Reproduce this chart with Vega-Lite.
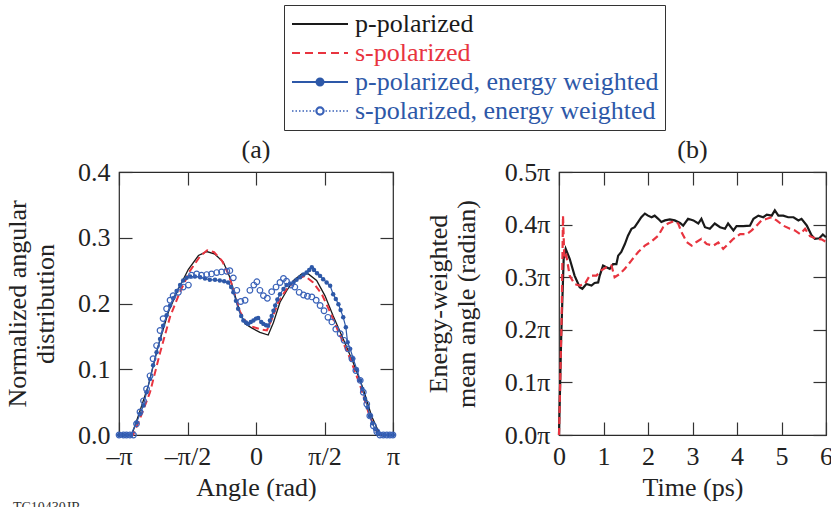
{
  "$schema": "https://vega.github.io/schema/vega-lite/v6.json",
  "background": "white",
  "padding": {"left": 3, "top": 4, "right": 0, "bottom": 0},
  "config": {
    "font": "Liberation Serif",
    "view": {"stroke": "#2a2a2a", "strokeWidth": 1.2},
    "axis": {
      "grid": false, "domain": false, "tickSize": -13, "tickColor": "#333333", "tickWidth": 1.2,
      "labelFont": "Liberation Serif", "labelFontSize": 26, "labelColor": "#222222",
      "titleFont": "Liberation Serif", "titleFontSize": 26, "titleFontWeight": "normal", "titleColor": "#222222",
      "labelFlush": false, "labelPadding": 22, "titlePadding": 19, "titleLineHeight": 28
    },
    "axisX": {"titlePadding": 5, "labelPadding": 21},
    "legend": {
      "labelFont": "Liberation Serif", "labelFontSize": 26, "labelLimit": 600,
      "symbolSize": 400, "symbolStrokeWidth": 2, "symbolOffset": 17, "labelOffset": 22,
      "rowPadding": 3, "padding": 6, "strokeColor": "#333333", "fillColor": "white"
    }
  },
  "datasets": {
    "a": [
      {"series":"p","angle":-3.14,"value":0},{"series":"p","angle":-2.85,"value":0},{"series":"p","angle":-2.70,"value":0.029},{"series":"p","angle":-2.47,"value":0.075},{"series":"p","angle":-2.24,"value":0.136},{"series":"p","angle":-2.01,"value":0.187},{"series":"p","angle":-1.78,"value":0.222},{"series":"p","angle":-1.55,"value":0.252},{"series":"p","angle":-1.32,"value":0.273},{"series":"p","angle":-1.13,"value":0.279},{"series":"p","angle":-0.94,"value":0.275},{"series":"p","angle":-0.75,"value":0.263},{"series":"p","angle":-0.60,"value":0.240},{"series":"p","angle":-0.48,"value":0.212},{"series":"p","angle":-0.37,"value":0.187},{"series":"p","angle":-0.25,"value":0.169},{"series":"p","angle":-0.10,"value":0.163},{"series":"p","angle":0.09,"value":0.156},{"series":"p","angle":0.28,"value":0.152},{"series":"p","angle":0.40,"value":0.171},{"series":"p","angle":0.55,"value":0.202},{"series":"p","angle":0.70,"value":0.219},{"series":"p","angle":0.86,"value":0.235},{"series":"p","angle":1.05,"value":0.245},{"series":"p","angle":1.20,"value":0.245},{"series":"p","angle":1.39,"value":0.235},{"series":"p","angle":1.58,"value":0.212},{"series":"p","angle":1.77,"value":0.181},{"series":"p","angle":2.00,"value":0.146},{"series":"p","angle":2.23,"value":0.110},{"series":"p","angle":2.46,"value":0.070},{"series":"p","angle":2.65,"value":0.029},{"series":"p","angle":2.80,"value":0.007},{"series":"p","angle":2.88,"value":0},{"series":"p","angle":3.14,"value":0},
      {"series":"s","angle":-3.14,"value":0},{"series":"s","angle":-2.82,"value":0},{"series":"s","angle":-2.66,"value":0.025},{"series":"s","angle":-2.43,"value":0.065},{"series":"s","angle":-2.20,"value":0.125},{"series":"s","angle":-1.97,"value":0.180},{"series":"s","angle":-1.74,"value":0.218},{"series":"s","angle":-1.51,"value":0.250},{"series":"s","angle":-1.28,"value":0.272},{"series":"s","angle":-1.12,"value":0.281},{"series":"s","angle":-0.96,"value":0.278},{"series":"s","angle":-0.78,"value":0.265},{"series":"s","angle":-0.62,"value":0.243},{"series":"s","angle":-0.48,"value":0.212},{"series":"s","angle":-0.37,"value":0.188},{"series":"s","angle":-0.23,"value":0.172},{"series":"s","angle":-0.14,"value":0.166},{"series":"s","angle":0.09,"value":0.161},{"series":"s","angle":0.25,"value":0.159},{"series":"s","angle":0.36,"value":0.176},{"series":"s","angle":0.51,"value":0.202},{"series":"s","angle":0.70,"value":0.222},{"series":"s","angle":0.93,"value":0.237},{"series":"s","angle":1.12,"value":0.242},{"series":"s","angle":1.31,"value":0.232},{"series":"s","angle":1.51,"value":0.214},{"series":"s","angle":1.70,"value":0.187},{"series":"s","angle":1.93,"value":0.151},{"series":"s","angle":2.16,"value":0.116},{"series":"s","angle":2.39,"value":0.075},{"series":"s","angle":2.58,"value":0.034},{"series":"s","angle":2.73,"value":0.009},{"series":"s","angle":2.84,"value":0},{"series":"s","angle":3.14,"value":0},
      {"series":"pw","angle":-3.14,"value":0},{"series":"pw","angle":-3.05,"value":0},{"series":"pw","angle":-2.96,"value":0},{"series":"pw","angle":-2.87,"value":0},{"series":"pw","angle":-2.74,"value":0.019},{"series":"pw","angle":-2.66,"value":0.032},{"series":"pw","angle":-2.58,"value":0.045},{"series":"pw","angle":-2.51,"value":0.065},{"series":"pw","angle":-2.43,"value":0.085},{"series":"pw","angle":-2.36,"value":0.106},{"series":"pw","angle":-2.28,"value":0.126},{"series":"pw","angle":-2.20,"value":0.146},{"series":"pw","angle":-2.13,"value":0.166},{"series":"pw","angle":-2.05,"value":0.182},{"series":"pw","angle":-1.97,"value":0.197},{"series":"pw","angle":-1.90,"value":0.208},{"series":"pw","angle":-1.82,"value":0.219},{"series":"pw","angle":-1.74,"value":0.228},{"series":"pw","angle":-1.67,"value":0.235},{"series":"pw","angle":-1.59,"value":0.239},{"series":"pw","angle":-1.51,"value":0.241},{"series":"pw","angle":-1.40,"value":0.241},{"series":"pw","angle":-1.28,"value":0.240},{"series":"pw","angle":-1.17,"value":0.238},{"series":"pw","angle":-1.06,"value":0.236},{"series":"pw","angle":-0.94,"value":0.236},{"series":"pw","angle":-0.83,"value":0.235},{"series":"pw","angle":-0.73,"value":0.234},{"series":"pw","angle":-0.64,"value":0.232},{"series":"pw","angle":-0.57,"value":0.225},{"series":"pw","angle":-0.52,"value":0.217},{"series":"pw","angle":-0.46,"value":0.204},{"series":"pw","angle":-0.41,"value":0.192},{"series":"pw","angle":-0.34,"value":0.181},{"series":"pw","angle":-0.29,"value":0.174},{"series":"pw","angle":-0.23,"value":0.171},{"series":"pw","angle":-0.18,"value":0.169},{"series":"pw","angle":-0.12,"value":0.172},{"series":"pw","angle":-0.06,"value":0.174},{"series":"pw","angle":0.00,"value":0.177},{"series":"pw","angle":0.05,"value":0.178},{"series":"pw","angle":0.12,"value":0.172},{"series":"pw","angle":0.17,"value":0.169},{"series":"pw","angle":0.23,"value":0.167},{"series":"pw","angle":0.28,"value":0.166},{"series":"pw","angle":0.32,"value":0.174},{"series":"pw","angle":0.36,"value":0.181},{"series":"pw","angle":0.40,"value":0.189},{"series":"pw","angle":0.44,"value":0.197},{"series":"pw","angle":0.49,"value":0.206},{"series":"pw","angle":0.55,"value":0.214},{"series":"pw","angle":0.63,"value":0.222},{"series":"pw","angle":0.70,"value":0.228},{"series":"pw","angle":0.78,"value":0.230},{"series":"pw","angle":0.86,"value":0.232},{"series":"pw","angle":0.93,"value":0.236},{"series":"pw","angle":1.01,"value":0.240},{"series":"pw","angle":1.09,"value":0.244},{"series":"pw","angle":1.16,"value":0.247},{"series":"pw","angle":1.22,"value":0.251},{"series":"pw","angle":1.28,"value":0.255},{"series":"pw","angle":1.33,"value":0.251},{"series":"pw","angle":1.40,"value":0.246},{"series":"pw","angle":1.47,"value":0.242},{"series":"pw","angle":1.54,"value":0.237},{"series":"pw","angle":1.62,"value":0.232},{"series":"pw","angle":1.70,"value":0.227},{"series":"pw","angle":1.77,"value":0.214},{"series":"pw","angle":1.83,"value":0.207},{"series":"pw","angle":1.89,"value":0.199},{"series":"pw","angle":1.94,"value":0.190},{"series":"pw","angle":2.00,"value":0.179},{"series":"pw","angle":2.06,"value":0.164},{"series":"pw","angle":2.10,"value":0.141},{"series":"pw","angle":2.16,"value":0.131},{"series":"pw","angle":2.23,"value":0.116},{"series":"pw","angle":2.31,"value":0.100},{"series":"pw","angle":2.39,"value":0.083},{"series":"pw","angle":2.44,"value":0.070},{"series":"pw","angle":2.50,"value":0.055},{"series":"pw","angle":2.56,"value":0.042},{"series":"pw","angle":2.61,"value":0.029},{"series":"pw","angle":2.67,"value":0.018},{"series":"pw","angle":2.73,"value":0.009},{"series":"pw","angle":2.79,"value":0.004},{"series":"pw","angle":2.84,"value":0.001},{"series":"pw","angle":2.94,"value":0},{"series":"pw","angle":3.03,"value":0},{"series":"pw","angle":3.14,"value":0},
      {"series":"sw","angle":-3.14,"value":0},{"series":"sw","angle":-3.04,"value":0},{"series":"sw","angle":-2.97,"value":0},{"series":"sw","angle":-2.89,"value":0},{"series":"sw","angle":-2.81,"value":0},{"series":"sw","angle":-2.74,"value":0.017},{"series":"sw","angle":-2.66,"value":0.035},{"series":"sw","angle":-2.58,"value":0.052},{"series":"sw","angle":-2.51,"value":0.070},{"series":"sw","angle":-2.43,"value":0.090},{"series":"sw","angle":-2.36,"value":0.116},{"series":"sw","angle":-2.28,"value":0.136},{"series":"sw","angle":-2.20,"value":0.159},{"series":"sw","angle":-2.13,"value":0.177},{"series":"sw","angle":-2.05,"value":0.192},{"series":"sw","angle":-1.97,"value":0.205},{"series":"sw","angle":-1.90,"value":0.212},{"series":"sw","angle":-1.78,"value":0.217},{"series":"sw","angle":-1.67,"value":0.225},{"series":"sw","angle":-1.55,"value":0.228},{"series":"sw","angle":-1.48,"value":0.243},{"series":"sw","angle":-1.36,"value":0.245},{"series":"sw","angle":-1.25,"value":0.243},{"series":"sw","angle":-1.13,"value":0.244},{"series":"sw","angle":-1.02,"value":0.245},{"series":"sw","angle":-0.90,"value":0.247},{"series":"sw","angle":-0.79,"value":0.248},{"series":"sw","angle":-0.67,"value":0.249},{"series":"sw","angle":-0.60,"value":0.250},{"series":"sw","angle":-0.52,"value":0.239},{"series":"sw","angle":-0.44,"value":0.220},{"series":"sw","angle":-0.35,"value":0.203},{"series":"sw","angle":-0.25,"value":0.205},{"series":"sw","angle":-0.14,"value":0.220},{"series":"sw","angle":-0.05,"value":0.228},{"series":"sw","angle":0.02,"value":0.233},{"series":"sw","angle":0.09,"value":0.220},{"series":"sw","angle":0.17,"value":0.212},{"series":"sw","angle":0.26,"value":0.208},{"series":"sw","angle":0.36,"value":0.218},{"series":"sw","angle":0.46,"value":0.225},{"series":"sw","angle":0.55,"value":0.232},{"series":"sw","angle":0.63,"value":0.238},{"series":"sw","angle":0.70,"value":0.234},{"series":"sw","angle":0.80,"value":0.228},{"series":"sw","angle":0.89,"value":0.225},{"series":"sw","angle":0.99,"value":0.217},{"series":"sw","angle":1.09,"value":0.213},{"series":"sw","angle":1.18,"value":0.211},{"series":"sw","angle":1.28,"value":0.210},{"series":"sw","angle":1.38,"value":0.205},{"series":"sw","angle":1.47,"value":0.197},{"series":"sw","angle":1.56,"value":0.189},{"series":"sw","angle":1.65,"value":0.179},{"series":"sw","angle":1.74,"value":0.172},{"series":"sw","angle":1.83,"value":0.161},{"series":"sw","angle":1.93,"value":0.154},{"series":"sw","angle":2.02,"value":0.144},{"series":"sw","angle":2.11,"value":0.131},{"series":"sw","angle":2.20,"value":0.116},{"series":"sw","angle":2.29,"value":0.098},{"series":"sw","angle":2.39,"value":0.083},{"series":"sw","angle":2.46,"value":0.065},{"series":"sw","angle":2.54,"value":0.047},{"series":"sw","angle":2.61,"value":0.029},{"series":"sw","angle":2.69,"value":0.014},{"series":"sw","angle":2.77,"value":0.005},{"series":"sw","angle":2.84,"value":0},{"series":"sw","angle":2.92,"value":0},{"series":"sw","angle":3.00,"value":0},{"series":"sw","angle":3.07,"value":0},{"series":"sw","angle":3.14,"value":0}
    ],
    "b": [
      {"series":"p","time":0,"angle_pi":0},{"series":"p","time":0.05,"angle_pi":0.189},{"series":"p","time":0.105,"angle_pi":0.335},{"series":"p","time":0.15,"angle_pi":0.354},{"series":"p","time":0.24,"angle_pi":0.335},{"series":"p","time":0.35,"angle_pi":0.303},{"series":"p","time":0.465,"angle_pi":0.281},{"series":"p","time":0.525,"angle_pi":0.278},{"series":"p","time":0.615,"angle_pi":0.287},{"series":"p","time":0.73,"angle_pi":0.284},{"series":"p","time":0.80,"angle_pi":0.289},{"series":"p","time":0.88,"angle_pi":0.290},{"series":"p","time":0.915,"angle_pi":0.303},{"series":"p","time":0.99,"angle_pi":0.322},{"series":"p","time":1.065,"angle_pi":0.319},{"series":"p","time":1.14,"angle_pi":0.316},{"series":"p","time":1.215,"angle_pi":0.325},{"series":"p","time":1.29,"angle_pi":0.325},{"series":"p","time":1.33,"angle_pi":0.341},{"series":"p","time":1.40,"angle_pi":0.348},{"series":"p","time":1.48,"angle_pi":0.363},{"series":"p","time":1.55,"angle_pi":0.379},{"series":"p","time":1.63,"angle_pi":0.392},{"series":"p","time":1.70,"angle_pi":0.395},{"series":"p","time":1.78,"angle_pi":0.405},{"series":"p","time":1.85,"angle_pi":0.414},{"series":"p","time":1.93,"angle_pi":0.421},{"series":"p","time":2.00,"angle_pi":0.417},{"series":"p","time":2.08,"angle_pi":0.414},{"series":"p","time":2.15,"angle_pi":0.417},{"series":"p","time":2.23,"angle_pi":0.411},{"series":"p","time":2.30,"angle_pi":0.405},{"series":"p","time":2.38,"angle_pi":0.408},{"series":"p","time":2.49,"angle_pi":0.410},{"series":"p","time":2.60,"angle_pi":0.408},{"series":"p","time":2.72,"angle_pi":0.403},{"series":"p","time":2.79,"angle_pi":0.398},{"series":"p","time":2.90,"angle_pi":0.411},{"series":"p","time":3.02,"angle_pi":0.408},{"series":"p","time":3.13,"angle_pi":0.402},{"series":"p","time":3.20,"angle_pi":0.411},{"series":"p","time":3.28,"angle_pi":0.395},{"series":"p","time":3.39,"angle_pi":0.392},{"series":"p","time":3.50,"angle_pi":0.402},{"series":"p","time":3.62,"angle_pi":0.395},{"series":"p","time":3.73,"angle_pi":0.392},{"series":"p","time":3.80,"angle_pi":0.402},{"series":"p","time":3.92,"angle_pi":0.389},{"series":"p","time":3.99,"angle_pi":0.397},{"series":"p","time":4.14,"angle_pi":0.397},{"series":"p","time":4.29,"angle_pi":0.398},{"series":"p","time":4.37,"angle_pi":0.411},{"series":"p","time":4.48,"angle_pi":0.417},{"series":"p","time":4.59,"angle_pi":0.414},{"series":"p","time":4.67,"angle_pi":0.419},{"series":"p","time":4.78,"angle_pi":0.417},{"series":"p","time":4.85,"angle_pi":0.427},{"series":"p","time":4.93,"angle_pi":0.417},{"series":"p","time":5.04,"angle_pi":0.417},{"series":"p","time":5.15,"angle_pi":0.414},{"series":"p","time":5.27,"angle_pi":0.414},{"series":"p","time":5.38,"angle_pi":0.408},{"series":"p","time":5.45,"angle_pi":0.411},{"series":"p","time":5.57,"angle_pi":0.398},{"series":"p","time":5.68,"angle_pi":0.379},{"series":"p","time":5.75,"angle_pi":0.373},{"series":"p","time":5.85,"angle_pi":0.374},{"series":"p","time":5.93,"angle_pi":0.381},{"series":"p","time":6.0,"angle_pi":0.376},
      {"series":"s","time":0,"angle_pi":0},{"series":"s","time":0.06,"angle_pi":0.227},{"series":"s","time":0.09,"angle_pi":0.417},{"series":"s","time":0.12,"angle_pi":0.335},{"series":"s","time":0.165,"angle_pi":0.341},{"series":"s","time":0.24,"angle_pi":0.303},{"series":"s","time":0.35,"angle_pi":0.287},{"series":"s","time":0.465,"angle_pi":0.284},{"series":"s","time":0.58,"angle_pi":0.287},{"series":"s","time":0.69,"angle_pi":0.303},{"series":"s","time":0.84,"angle_pi":0.303},{"series":"s","time":0.95,"angle_pi":0.313},{"series":"s","time":1.065,"angle_pi":0.319},{"series":"s","time":1.18,"angle_pi":0.322},{"series":"s","time":1.25,"angle_pi":0.300},{"series":"s","time":1.365,"angle_pi":0.306},{"series":"s","time":1.48,"angle_pi":0.316},{"series":"s","time":1.63,"angle_pi":0.332},{"series":"s","time":1.78,"angle_pi":0.348},{"series":"s","time":1.93,"angle_pi":0.360},{"series":"s","time":2.08,"angle_pi":0.368},{"series":"s","time":2.23,"angle_pi":0.379},{"series":"s","time":2.34,"angle_pi":0.395},{"series":"s","time":2.45,"angle_pi":0.402},{"series":"s","time":2.57,"angle_pi":0.406},{"series":"s","time":2.68,"angle_pi":0.402},{"series":"s","time":2.75,"angle_pi":0.386},{"series":"s","time":2.87,"angle_pi":0.367},{"series":"s","time":2.98,"angle_pi":0.360},{"series":"s","time":3.09,"angle_pi":0.367},{"series":"s","time":3.20,"angle_pi":0.373},{"series":"s","time":3.32,"angle_pi":0.363},{"series":"s","time":3.47,"angle_pi":0.360},{"series":"s","time":3.58,"angle_pi":0.366},{"series":"s","time":3.69,"angle_pi":0.354},{"series":"s","time":3.80,"angle_pi":0.363},{"series":"s","time":3.92,"angle_pi":0.373},{"series":"s","time":4.07,"angle_pi":0.382},{"series":"s","time":4.22,"angle_pi":0.382},{"series":"s","time":4.33,"angle_pi":0.389},{"series":"s","time":4.44,"angle_pi":0.398},{"series":"s","time":4.55,"angle_pi":0.408},{"series":"s","time":4.67,"angle_pi":0.411},{"series":"s","time":4.78,"angle_pi":0.414},{"series":"s","time":4.89,"angle_pi":0.408},{"series":"s","time":5.04,"angle_pi":0.398},{"series":"s","time":5.19,"angle_pi":0.392},{"series":"s","time":5.30,"angle_pi":0.389},{"series":"s","time":5.42,"angle_pi":0.382},{"series":"s","time":5.53,"angle_pi":0.392},{"series":"s","time":5.64,"angle_pi":0.378},{"series":"s","time":5.79,"angle_pi":0.373},{"series":"s","time":5.90,"angle_pi":0.372},{"series":"s","time":6.0,"angle_pi":0.367}
    ]
  },
  "title": {"text": "TC10430JR", "orient": "bottom", "anchor": "start", "fontSize": 14, "fontWeight": "normal", "color": "#333333", "offset": 0, "dx": 9, "font": "Liberation Serif"},
  "spacing": 23,
  "hconcat": [
    {
      "width": 274, "height": 263,
      "title": {"text": "(a)", "fontSize": 26, "fontWeight": "normal", "font": "Liberation Serif", "color": "#222222", "offset": -4},
      "data": {"name": "a"},
      "resolve": {"axis": {"x": "independent", "y": "independent"}},
      "layer": [
        {
          "transform": [{"filter": "datum.series === 'p'"}],
          "mark": {"type": "line", "strokeWidth": 1.3},
          "encoding": {
            "x": {"field": "angle", "type": "quantitative", "scale": {"domain": [-3.1416, 3.1416], "nice": false},
                  "axis": {"orient": "bottom", "title": "Angle (rad)", "values": [-3.1416, -1.5708, 0, 1.5708, 3.1416],
                           "labelExpr": "datum.value < -3 ? '–π' : datum.value < -1 ? '–π/2' : datum.value > 3 ? 'π' : datum.value > 1 ? 'π/2' : '0'"}},
            "y": {"field": "value", "type": "quantitative", "scale": {"domain": [0, 0.4], "nice": false},
                  "axis": {"orient": "left", "title": ["Normalized angular", "distribution"], "values": [0, 0.1, 0.2, 0.3, 0.4], "format": ".1f"}},
            "color": {"field": "series", "type": "nominal",
                      "scale": {"domain": ["p", "s", "pw", "sw"], "range": ["#1a1a1a", "#e8343f", "#2d58a8", "#3a62b8"]},
                      "legend": {
                        "title": null, "orient": "none", "legendX": 165, "legendY": -167, "direction": "vertical",
                        "labelExpr": "datum.value === 'p' ? 'p-polarized' : datum.value === 's' ? 's-polarized' : datum.value === 'pw' ? 'p-polarized, energy weighted' : 's-polarized, energy weighted'",
                        "encode": {
                          "symbols": {"update": {
                            "shape": {"signal": "datum.value === 'pw' ? 'M-2.8,0L2.8,0M-0.35,0A0.35,0.35 0 1,1 0.35,0A0.35,0.35 0 1,1 -0.35,0' : datum.value === 'sw' ? 'M-2.8,0L-2.65,0M-2.45,0L-2.3,0M-2.1,0L-1.95,0M-1.75,0L-1.6,0M-1.4,0L-1.25,0M-1.05,0L-0.9,0M-0.7,0L-0.55,0M0.55,0L0.7,0M0.9,0L1.05,0M1.25,0L1.4,0M1.6,0L1.75,0M1.95,0L2.1,0M2.3,0L2.45,0M2.65,0L2.8,0M-0.4,0A0.4,0.4 0 1,1 0.4,0A0.4,0.4 0 1,1 -0.4,0ZM-0.32,0A0.32,0.32 0 1,0 0.32,0A0.32,0.32 0 1,0 -0.32,0Z' : 'M-2.8,0L2.8,0'"},
                            "stroke": {"signal": "datum.value === 'pw' || datum.value === 'sw' ? '#2d58a8' : datum.value === 's' ? '#e8343f' : '#1a1a1a'"},
                            "fill": {"signal": "datum.value === 'pw' || datum.value === 'sw' ? '#2d58a8' : 'transparent'"},
                            "strokeDash": {"signal": "datum.value === 's' ? [8, 5] : [100, 0]"},
                            "strokeWidth": {"signal": "datum.value === 'sw' ? 1.4 : 2"},
                            "opacity": {"value": 1}
                          }},
                          "labels": {"update": {
                            "fill": {"signal": "datum.value === 'pw' || datum.value === 'sw' ? '#2d58a8' : datum.value === 's' ? '#e8343f' : '#1a1a1a'"}
                          }}
                        }
                      }}
          }
        },
        {
          "transform": [{"filter": "datum.series === 's'"}],
          "mark": {"type": "line", "strokeWidth": 2, "strokeDash": [7, 4]},
          "encoding": {
            "x": {"field": "angle", "type": "quantitative", "axis": {"orient": "top", "labels": false, "title": null, "values": [-3.1416, -1.5708, 0, 1.5708, 3.1416]}},
            "y": {"field": "value", "type": "quantitative", "axis": {"orient": "right", "labels": false, "title": null, "values": [0, 0.1, 0.2, 0.3, 0.4]}},
            "color": {"field": "series", "type": "nominal"}
          }
        },
        {
          "transform": [{"filter": "datum.series === 'pw'"}],
          "mark": {"type": "line", "strokeWidth": 1.2},
          "encoding": {
            "x": {"field": "angle", "type": "quantitative", "axis": null},
            "y": {"field": "value", "type": "quantitative", "axis": null},
            "color": {"field": "series", "type": "nominal"}
          }
        },
        {
          "transform": [{"filter": "datum.series === 'pw'"}],
          "mark": {"type": "point", "filled": true, "size": 20, "opacity": 1},
          "encoding": {
            "x": {"field": "angle", "type": "quantitative", "axis": null},
            "y": {"field": "value", "type": "quantitative", "axis": null},
            "color": {"field": "series", "type": "nominal"}
          }
        },
        {
          "transform": [{"filter": "datum.series === 'sw'"}],
          "mark": {"type": "point", "filled": false, "size": 32, "strokeWidth": 1.2, "opacity": 1},
          "encoding": {
            "x": {"field": "angle", "type": "quantitative", "axis": null},
            "y": {"field": "value", "type": "quantitative", "axis": null},
            "color": {"field": "series", "type": "nominal"}
          }
        }
      ]
    },
    {
      "width": 267, "height": 263,
      "title": {"text": "(b)", "fontSize": 26, "fontWeight": "normal", "font": "Liberation Serif", "color": "#222222", "offset": -4},
      "data": {"name": "b"},
      "resolve": {"axis": {"x": "independent", "y": "independent"}},
      "layer": [
        {
          "transform": [{"filter": "datum.series === 'p'"}],
          "mark": {"type": "line", "strokeWidth": 2.2},
          "encoding": {
            "x": {"field": "time", "type": "quantitative", "scale": {"domain": [0, 6], "nice": false},
                  "axis": {"orient": "bottom", "title": "Time (ps)", "values": [0, 1, 2, 3, 4, 5, 6], "format": "d"}},
            "y": {"field": "angle_pi", "type": "quantitative", "scale": {"domain": [0, 0.5], "nice": false},
                  "axis": {"orient": "left", "title": ["Energy-weighted", "mean angle (radian)"], "titlePadding": 25, "values": [0, 0.1, 0.2, 0.3, 0.4, 0.5],
                           "labelExpr": "format(datum.value, '.1f') + 'π'"}},
            "color": {"field": "series", "type": "nominal"}
          }
        },
        {
          "transform": [{"filter": "datum.series === 's'"}],
          "mark": {"type": "line", "strokeWidth": 2.2, "strokeDash": [7, 4]},
          "encoding": {
            "x": {"field": "time", "type": "quantitative", "axis": {"orient": "top", "labels": false, "title": null, "values": [0, 1, 2, 3, 4, 5, 6]}},
            "y": {"field": "angle_pi", "type": "quantitative", "axis": {"orient": "right", "labels": false, "title": null, "values": [0, 0.1, 0.2, 0.3, 0.4, 0.5]}},
            "color": {"field": "series", "type": "nominal"}
          }
        }
      ]
    }
  ]
}
